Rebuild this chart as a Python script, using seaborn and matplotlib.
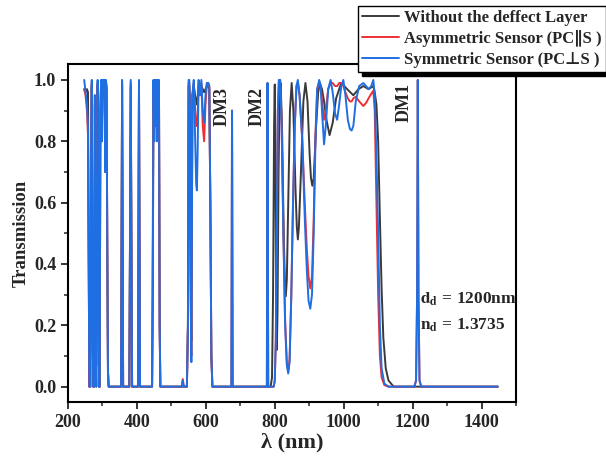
import numpy as np
import pandas as pd
import seaborn as sns
from matplotlib import pyplot as plt
from matplotlib.ticker import MultipleLocator

# short-wavelength band (shared wavelength grid, nm)
lam_short = [247, 251, 255, 258, 260, 262, 265, 267, 269, 271,
             273, 276, 278, 280, 282, 284, 286, 288, 290, 292,
             294, 296, 298, 300, 302, 304, 306, 308, 310, 312,
             314, 316, 318, 320, 354, 355.5, 357, 358.5, 360, 378,
             380, 382, 384, 386, 403, 404.5, 406, 407.5, 409, 444,
             446, 448, 450, 452, 454, 456, 458, 460, 462, 464,
             466, 468, 530, 533, 536, 545, 548, 550, 552, 554,
             556, 558, 561, 565, 569, 572, 574, 576, 579, 583,
             587, 591, 595, 599, 603, 607, 610, 613, 616, 619]

t_short_black = [0.97, 0.96, 0.97, 0.96, 0.50, 0.00, 0.00, 0.70, 0.98, 0.30,
                 0.00, 0.00, 0.92, 0.15, 0.00, 0.60, 0.98, 0.40, 0.00, 0.00,
                 0.90, 0.98, 0.80, 0.98, 0.95, 0.98, 0.98, 0.70, 0.98, 0.97,
                 0.45, 0.05, 0.00, 0.00, 0.00, 0.50, 0.98, 0.50, 0.00, 0.00,
                 0.50, 0.98, 0.50, 0.00, 0.00, 0.50, 0.98, 0.50, 0.00, 0.00,
                 0.30, 0.98, 0.85, 0.98, 0.88, 0.98, 0.85, 0.98, 0.92, 0.98,
                 0.20, 0.00, 0.00, 0.00, 0.00, 0.00, 0.20, 0.98, 0.98, 0.92,
                 0.40, 0.15, 0.95, 0.98, 0.95, 0.93, 0.92, 0.94, 0.98, 0.96,
                 0.98, 0.97, 0.96, 0.97, 0.98, 0.98, 0.97, 0.60, 0.10, 0.00]

t_short_red = [0.97, 0.95, 0.90, 0.82, 0.40, 0.00, 0.12, 0.75, 0.99, 0.54,
               0.00, 0.00, 0.95, 0.15, 0.07, 0.60, 0.99, 0.40, 0.00, 0.00,
               0.90, 0.99, 0.80, 0.99, 0.95, 0.99, 0.99, 0.70, 0.99, 0.98,
               0.45, 0.05, 0.00, 0.00, 0.00, 0.55, 0.99, 0.55, 0.00, 0.00,
               0.50, 0.99, 0.50, 0.00, 0.00, 0.50, 0.99, 0.50, 0.00, 0.00,
               0.52, 0.99, 0.80, 0.99, 0.85, 0.99, 0.80, 0.99, 0.90, 0.99,
               0.20, 0.00, 0.00, 0.025, 0.00, 0.00, 0.20, 0.99, 0.99, 0.90,
               0.30, 0.10, 0.95, 0.99, 0.90, 0.85, 0.85, 0.88, 0.99, 0.95,
               0.99, 0.85, 0.80, 0.92, 0.99, 0.99, 0.98, 0.60, 0.10, 0.00]

t_short_blue = [1.00, 0.96, 0.92, 0.85, 0.40, 0.00, 0.00, 0.75, 1.00, 0.30,
                0.00, 0.00, 0.95, 0.15, 0.00, 0.60, 1.00, 0.40, 0.00, 0.00,
                0.90, 1.00, 0.80, 1.00, 0.95, 1.00, 1.00, 0.70, 1.00, 0.98,
                0.45, 0.05, 0.00, 0.00, 0.00, 0.55, 1.00, 0.55, 0.00, 0.00,
                0.50, 1.00, 0.50, 0.00, 0.00, 0.50, 1.00, 0.50, 0.00, 0.00,
                0.30, 1.00, 0.80, 1.00, 0.85, 1.00, 0.80, 1.00, 0.90, 1.00,
                0.20, 0.00, 0.00, 0.02, 0.00, 0.00, 0.20, 1.00, 1.00, 0.90,
                0.30, 0.08, 0.95, 1.00, 0.80, 0.66, 0.64, 0.75, 1.00, 0.95,
                1.00, 0.90, 0.86, 0.95, 0.99, 0.99, 0.98, 0.60, 0.10, 0.00]

# long-wavelength part, without defect layer
lam_black_long = [788, 792, 795, 798, 800, 802, 804, 806, 808, 811,
                  814, 817, 821, 826, 829, 832, 835, 839, 844, 849,
                  854, 860, 864, 867, 870, 876, 883, 889, 895, 901,
                  905, 909, 913, 920, 926, 931, 937, 943, 950, 959,
                  968, 978, 993, 1010, 1028, 1043, 1057, 1072, 1086, 1090,
                  1095, 1100, 1105, 1110, 1115, 1122, 1130, 1145, 1447]
t_black_long = [0.00, 0.03, 0.30, 0.85, 0.985, 0.70, 0.25, 0.12, 0.25, 0.70,
                0.95, 0.99, 0.85, 0.50, 0.35, 0.295, 0.35, 0.60, 0.90, 0.99,
                0.90, 0.65, 0.52, 0.48, 0.52, 0.70, 0.93, 0.99, 0.93, 0.76,
                0.68, 0.655, 0.68, 0.85, 0.96, 0.99, 0.97, 0.93, 0.87, 0.82,
                0.86, 0.94, 0.99, 0.97, 0.95, 0.97, 0.98, 0.97, 0.98, 0.96,
                0.92, 0.80, 0.55, 0.32, 0.16, 0.06, 0.02, 0.00, 0.00]

# long-wavelength part, sensors (defect modes DM3, DM2, DM1)
lam_sensor_long = [674, 676, 678, 777, 779, 781, 797, 800, 803, 806,
                   809, 812, 816, 820, 825, 830, 835, 839, 843, 848,
                   853, 858, 863, 867, 872, 880, 887, 893, 898, 903,
                   908, 913, 918, 923, 929, 933, 938, 943, 948, 955,
                   962, 968, 975, 981, 987, 993, 999, 1005, 1012, 1018,
                   1023, 1028, 1035, 1045, 1057, 1065, 1072, 1080, 1086, 1090,
                   1095, 1100, 1105, 1110, 1118, 1130, 1205, 1210, 1213, 1215,
                   1217, 1220, 1225, 1447]
t_red_long = [0.00, 0.90, 0.00, 0.00, 0.99, 0.00, 0.00, 0.02, 0.15, 0.55,
              0.90, 1.00, 0.99, 0.85, 0.50, 0.22, 0.08, 0.05, 0.09, 0.30,
              0.60, 0.85, 0.98, 0.99, 0.95, 0.80, 0.60, 0.45, 0.36, 0.32,
              0.36, 0.55, 0.82, 0.97, 0.99, 0.98, 0.92, 0.87, 0.90, 0.97,
              0.99, 0.99, 0.98, 0.98, 0.99, 0.99, 0.98, 0.96, 0.94, 0.93,
              0.93, 0.94, 0.945, 0.93, 0.915, 0.925, 0.94, 0.955, 0.965, 0.90,
              0.60, 0.30, 0.10, 0.03, 0.005, 0.00, 0.00, 0.02, 0.30, 1.00,
              0.30, 0.02, 0.00, 0.00]
t_blue_long = [0.00, 0.90, 0.00, 0.00, 0.99, 0.00, 0.00, 0.02, 0.15, 0.55,
               0.90, 1.00, 1.00, 0.85, 0.50, 0.20, 0.07, 0.043, 0.08, 0.30,
               0.60, 0.85, 0.98, 1.00, 0.95, 0.80, 0.55, 0.38, 0.28, 0.254,
               0.30, 0.50, 0.80, 0.97, 1.00, 0.98, 0.88, 0.79, 0.85, 0.97,
               1.00, 0.96, 0.89, 0.87, 0.92, 0.98, 1.00, 0.95, 0.87, 0.84,
               0.835, 0.85, 0.93, 0.98, 0.99, 0.98, 0.97, 0.98, 1.00, 0.95,
               0.75, 0.50, 0.20, 0.06, 0.01, 0.00, 0.00, 0.02, 0.30, 1.00,
               0.30, 0.02, 0.00, 0.00]

labels = ["Without the deffect Layer", "Asymmetric Sensor (PC\u2225S )", "Symmetric Sensor (PC\u22a5S )"]
colors = ["#3a3a3a", "#ee3035", "#1f6fe2"]

black = pd.DataFrame({"lam": lam_short + lam_black_long, "T": t_short_black + t_black_long})
red = pd.DataFrame({"lam": lam_short + lam_sensor_long, "T": t_short_red + t_red_long})
blue = pd.DataFrame({"lam": lam_short + lam_sensor_long, "T": t_short_blue + t_blue_long})

sns.set_style("ticks")
plt.rcParams['font.family'] = ['Liberation Serif', 'DejaVu Sans']
plt.rcParams['font.weight'] = 'bold'
plt.rcParams['axes.labelweight'] = 'bold'
plt.rcParams['mathtext.fontset'] = 'stix'

fig = plt.figure(figsize=(6.06, 4.58), dpi=100)
ax = fig.add_axes([0.1122, 0.1223, 0.7393, 0.738])

for df, lab, col in zip([black, red, blue], labels, colors):
    sns.lineplot(data=df, x="lam", y="T", color=col, lw=1.4, ax=ax,
                 label=lab, estimator=None, sort=False, legend=False)

ax.set_xlim(200, 1500)
ax.set_ylim(-0.05, 1.052)
ax.xaxis.set_major_locator(MultipleLocator(200))
ax.xaxis.set_minor_locator(MultipleLocator(100))
ax.yaxis.set_major_locator(MultipleLocator(0.2))
ax.yaxis.set_minor_locator(MultipleLocator(0.1))
ax.tick_params(which='major', direction='out', length=5, width=1.3, labelsize=13)
ax.tick_params(which='minor', direction='out', length=3, width=1.1)
for s in ax.spines.values():
    s.set_linewidth(1.5)
    s.set_color('black')

ax.set_xlabel("\u03bb (nm)", fontsize=16, fontweight='bold', labelpad=1)
ax.set_ylabel("Transmission", fontsize=13.5, fontweight='bold', labelpad=3)

ax.text(648, 0.915, "DM3", rotation=90, ha='center', va='center', fontsize=13, fontweight='bold')
ax.text(750, 0.915, "DM2", rotation=90, ha='center', va='center', fontsize=13, fontweight='bold')
ax.text(1175, 0.925, "DM1", rotation=90, ha='center', va='center', fontsize=13, fontweight='bold')
ax.text(1222, 0.284, r"$\mathbf{d_d}$ = 1200nm", ha='left', va='center', fontsize=12.5, fontweight='bold')
ax.text(1222, 0.20, r"$\mathbf{n_d}$ = 1.3735", ha='left', va='center', fontsize=12.5, fontweight='bold')

handles = ax.get_lines()[:3]
fig.legend(handles, labels, loc='upper left', bbox_to_anchor=(358 / 606, 1 - 6 / 458),
           frameon=True, fancybox=False, edgecolor='black', framealpha=1,
           shadow={'ox': 3, 'oy': -3, 'shade': 1.0, 'alpha': 1},
           prop={'weight': 'bold', 'size': 12}, handlelength=2.2, handletextpad=0.3,
           borderpad=0.25, labelspacing=0.25, borderaxespad=0)

fig.savefig("out.png", dpi=100)
